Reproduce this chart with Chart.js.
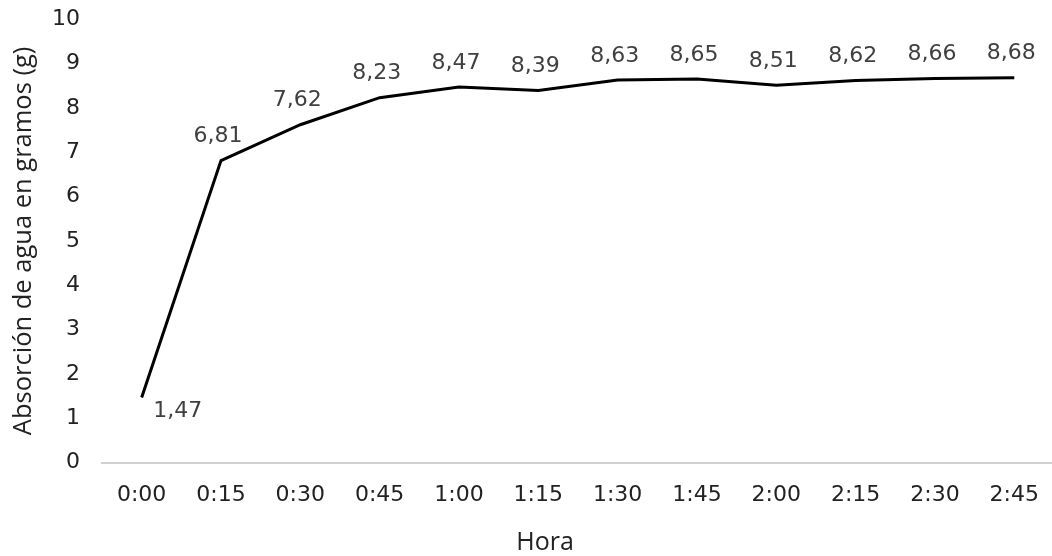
<!DOCTYPE html>
<html><head><meta charset="utf-8">
<script src="https://cdn.jsdelivr.net/npm/chart.js@4/dist/chart.umd.min.js"></script>
<style>
html,body{margin:0;padding:0;background:#fff;overflow:hidden;}
canvas{display:block;margin-top:-16px;}
</style></head>
<body><canvas id="c" width="1058" height="572"></canvas>
<script>
const categories = ["0:00","0:15","0:30","0:45","1:00","1:15","1:30","1:45","2:00","2:15","2:30","2:45"];
const absorcion = [1.47,6.81,7.62,8.23,8.47,8.39,8.63,8.65,8.51,8.62,8.66,8.68];
const yTitle = "Absorción de agua en gramos (g)";
const xTitle = "Hora";

const labelPlugin = {
  id:'pointLabels',
  afterDatasetsDraw(chart){
    const ctx = chart.ctx;
    const meta = chart.getDatasetMeta(0);
    ctx.save();
    ctx.font = '22px "DejaVu Sans", Verdana, sans-serif';
    ctx.fillStyle = '#404040';
    ctx.textAlign = 'center';
    ctx.textBaseline = 'middle';
    meta.data.forEach((pt,i)=>{
      const txt = absorcion[i].toFixed(2).replace('.',',');
      if(i===0){ ctx.fillText(txt, pt.x+36, pt.y+14); }
      else { ctx.fillText(txt, pt.x-3, pt.y-24); }
    });
    ctx.font = '25px "Open Sans", "Noto Sans", sans-serif';
    ctx.fillStyle = '#222';
    ctx.fillText(xTitle, 545, chart.chartArea.bottom + 80);
    ctx.restore();
  }
};

new Chart(document.getElementById('c'),{
  type:'line',
  data:{labels:categories,datasets:[{data:absorcion,borderColor:'#000',borderWidth:3,pointRadius:0,tension:0,fill:false}]},
  options:{
    responsive:false,animation:false,
    layout:{padding:{top:0,left:8,right:0,bottom:29}},
    plugins:{legend:{display:false},tooltip:{enabled:false}},
    scales:{
      x:{offset:true,
         grid:{display:false,drawTicks:false},
         border:{display:true,color:'#d0d0d0',width:2},
         ticks:{color:'#222',padding:19,maxRotation:0,font:{family:'"DejaVu Sans", Verdana, sans-serif',size:22}}},
      y:{min:0,max:10,
         grid:{display:false,drawTicks:false},
         border:{display:false},
         afterFit(scale){ scale.width = 94; },
         ticks:{stepSize:1,color:'#222',padding:22,font:{family:'"DejaVu Sans", Verdana, sans-serif',size:22}},
         title:{display:true,text:yTitle,color:'#222',padding:{top:0,bottom:14},font:{family:'"Open Sans", "Noto Sans", sans-serif',size:25.5}}}
    }
  },
  plugins:[labelPlugin]
});
</script></body></html>
